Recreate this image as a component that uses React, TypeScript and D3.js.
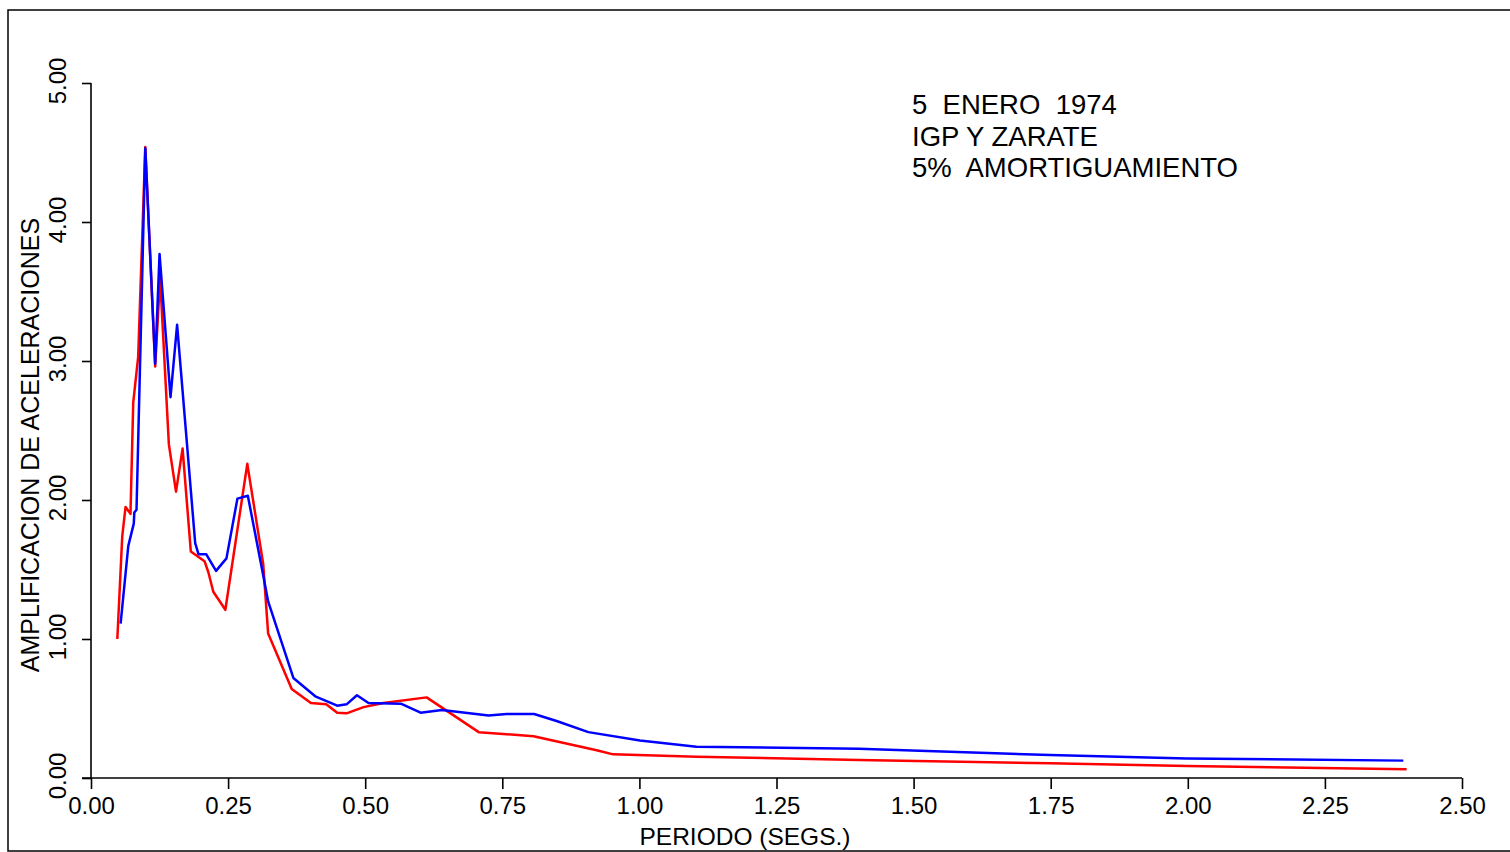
/**
 * Espectro de amplificación de aceleraciones — 5 enero 1974 (IGP y Zarate)
 * Two response curves (red / blue) vs. period, 5% damping.
 */

import { useEffect, useRef } from 'react';
import * as d3 from 'd3';

// Periods (s) and amplification values
const redPeriods = [
  0.048, 0.057, 0.063, 0.072, 0.077, 0.086, 0.099, 0.117, 0.126, 0.142, 0.155, 0.167,
  0.182, 0.207, 0.214, 0.223, 0.245, 0.285, 0.314, 0.323, 0.366, 0.401, 0.429, 0.449,
  0.466, 0.497, 0.533, 0.612, 0.707, 0.807, 0.922, 0.952, 1.104, 1.4, 1.749, 1.998, 2.399,
];
const redValues = [
  1.0, 1.74, 1.95, 1.9, 2.7, 3.03, 4.54, 2.96, 3.6, 2.4, 2.06, 2.37,
  1.63, 1.56, 1.48, 1.34, 1.21, 2.26, 1.54, 1.04, 0.64, 0.54, 0.53, 0.47,
  0.465, 0.51, 0.54, 0.58, 0.33, 0.3, 0.2, 0.17, 0.153, 0.13, 0.106, 0.086, 0.063,
];

const bluePeriods = [
  0.054, 0.068, 0.078, 0.079, 0.083, 0.099, 0.117, 0.125, 0.145, 0.157, 0.19, 0.196,
  0.21, 0.228, 0.247, 0.267, 0.286, 0.312, 0.323, 0.369, 0.41, 0.449, 0.466, 0.485,
  0.506, 0.565, 0.601, 0.64, 0.725, 0.758, 0.808, 0.849, 0.907, 1.001, 1.104, 1.4,
  1.749, 1.998, 2.393,
];
const blueValues = [
  1.11, 1.67, 1.83, 1.91, 1.93, 4.53, 2.98, 3.77, 2.74, 3.26, 1.69, 1.61,
  1.61, 1.49, 1.58, 2.01, 2.03, 1.5, 1.27, 0.72, 0.585, 0.52, 0.53, 0.595,
  0.54, 0.535, 0.47, 0.49, 0.45, 0.46, 0.46, 0.41, 0.33, 0.27, 0.225, 0.21,
  0.165, 0.14, 0.125,
];

const xTicks = [0, 0.25, 0.5, 0.75, 1.0, 1.25, 1.5, 1.75, 2.0, 2.25, 2.5];
const yTicks = [0, 1, 2, 3, 4, 5];
const noteLines = ['5  ENERO  1974', 'IGP Y ZARATE', '5%  AMORTIGUAMIENTO'];

const FONT = '"Liberation Sans", Arial, Helvetica, sans-serif';

export default function App() {
  const svgRef = useRef<SVGSVGElement>(null);
  const width = 1510;
  const height = 852;

  useEffect(() => {
    if (!svgRef.current) return;
    const svg = d3.select(svgRef.current);
    svg.selectAll('*').remove();

    const x = d3.scaleLinear().domain([0, 2.5]).range([91, 1462]);
    const y = d3.scaleLinear().domain([0, 5]).range([778, 83]);

    // outer frame
    svg
      .append('rect')
      .attr('x', 8)
      .attr('y', 10)
      .attr('width', 1510)
      .attr('height', 841)
      .attr('fill', 'none')
      .attr('stroke', '#000')
      .attr('stroke-width', 1.5);

    // x axis
    const xAxis = svg
      .append('g')
      .attr('transform', `translate(0,${y(0)})`)
      .call(d3.axisBottom(x).tickValues(xTicks).tickSize(11).tickFormat(d3.format('.2f')));
    xAxis.select('.domain').attr('stroke-width', 1.6).attr('d', `M${x(0) - 9},0H${x(2.5)}`);
    xAxis.selectAll('.tick line').attr('stroke-width', 1.6);
    xAxis
      .selectAll('.tick text')
      .attr('font-family', FONT)
      .attr('font-size', 24)
      .attr('fill', '#000')
      .attr('y', 19);

    // y axis
    const yAxis = svg
      .append('g')
      .attr('transform', `translate(${x(0)},0)`)
      .call(d3.axisLeft(y).tickValues(yTicks).tickSize(9).tickFormat(() => ''));
    yAxis.select('.domain').attr('stroke-width', 1.6).attr('d', `M0,${y(5)}V${y(0)}`);
    yAxis.selectAll('.tick line').attr('stroke-width', 1.6);

    // rotated y tick labels
    svg
      .append('g')
      .selectAll('text')
      .data(yTicks)
      .enter()
      .append('text')
      .attr('transform', (d) => `translate(66,${y(d) - 2}) rotate(-90)`)
      .attr('text-anchor', 'middle')
      .attr('font-family', FONT)
      .attr('font-size', 24)
      .attr('fill', '#000')
      .text((d) => d.toFixed(2));

    // axis titles
    svg
      .append('text')
      .attr('x', 745)
      .attr('y', 845)
      .attr('text-anchor', 'middle')
      .attr('font-family', FONT)
      .attr('font-size', 24.5)
      .attr('fill', '#000')
      .text('PERIODO (SEGS.)');

    svg
      .append('text')
      .attr('transform', `translate(39,445) rotate(-90)`)
      .attr('text-anchor', 'middle')
      .attr('font-family', FONT)
      .attr('font-size', 25)
      .attr('fill', '#000')
      .text('AMPLIFICACION DE ACELERACIONES');

    // curves
    const line = d3
      .line<[number, number]>()
      .x((d) => x(d[0]))
      .y((d) => y(d[1]));

    const red = redPeriods.map((t, i) => [t, redValues[i]] as [number, number]);
    const blue = bluePeriods.map((t, i) => [t, blueValues[i]] as [number, number]);

    svg
      .append('path')
      .attr('d', line(red))
      .attr('fill', 'none')
      .attr('stroke', '#ff0000')
      .attr('stroke-width', 2.5)
      .attr('stroke-linejoin', 'round');

    svg
      .append('path')
      .attr('d', line(blue))
      .attr('fill', 'none')
      .attr('stroke', '#0000ff')
      .attr('stroke-width', 2.5)
      .attr('stroke-linejoin', 'round');

    // annotation
    noteLines.forEach((txt, i) => {
      svg
        .append('text')
        .attr('x', 912)
        .attr('y', 114 + i * 31.5)
        .attr('font-family', FONT)
        .attr('font-size', 27.5)
        .attr('fill', '#000')
        .style('white-space', 'pre')
        .text(txt);
    });
  }, []);

  return (
    <div style={{ position: 'absolute', left: 0, top: 0, width, height, background: '#fff' }}>
      <svg ref={svgRef} width={width} height={height} style={{ display: 'block' }} />
    </div>
  );
}
